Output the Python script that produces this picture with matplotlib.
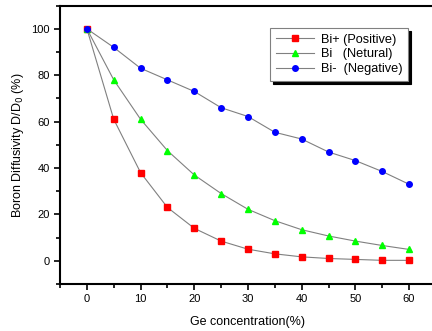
import matplotlib
matplotlib.use("Agg")
import matplotlib.pyplot as plt
from matplotlib.ticker import MultipleLocator

plt.rcParams['font.family'] = ['Liberation Sans', 'DejaVu Sans']

ge_conc = [0, 5, 10, 15, 20, 25, 30, 35, 40, 45, 50, 55, 60]
bi_pos = [100, 61, 38, 23, 14, 8.5, 5, 3, 1.7, 1.0, 0.6, 0.2, 0.2]
bi_neu = [100, 78, 61, 47.5, 37, 29, 22.2, 17.3, 13.4, 10.7, 8.5, 6.6, 4.9]
bi_neg = [100, 92, 83, 78, 73, 66, 62.2, 55.4, 52.5, 46.9, 43.2, 38.5, 33]

fig = plt.figure(figsize=(4.32, 3.31), dpi=100)
ax = fig.add_axes([0.139, 0.142, 0.870, 0.841])

line_kw = dict(color='#808080', lw=0.8, markersize=4)
ax.plot(ge_conc, bi_pos, marker='s', mfc='#ff0000', mec='#ff0000',
        label='Bi+ (Positive)', **line_kw)
ax.plot(ge_conc, bi_neu, marker='^', mfc='#00ff00', mec='#00ff00',
        label='Bi   (Netural)', **line_kw)
ax.plot(ge_conc, bi_neg, marker='o', mfc='#0000ff', mec='#0000ff',
        label='Bi-  (Negative)', **line_kw)

ax.set_xlim(-5, 65)
ax.set_ylim(-10, 110)
ax.xaxis.set_major_locator(MultipleLocator(10))
ax.xaxis.set_minor_locator(MultipleLocator(5))
ax.yaxis.set_major_locator(MultipleLocator(20))
ax.yaxis.set_minor_locator(MultipleLocator(10))
ax.tick_params(which='both', direction='out', labelsize=8, width=1.2)
ax.tick_params(which='major', length=4)
ax.tick_params(which='minor', length=3)
for s in ax.spines.values():
    s.set_linewidth(1.5)

ax.set_xlabel('Ge concentration(%)', fontsize=9, labelpad=8)
ax.set_ylabel('Boron Diffusivity D/D$_0$ (%)', fontsize=9, labelpad=4)

leg = ax.legend(loc='upper right', bbox_to_anchor=(0.926, 0.919), fontsize=9.2,
                fancybox=False, shadow={'color': 'black', 'alpha': 1},
                framealpha=1, edgecolor='#808080', handlelength=3.0,
                borderpad=0.45, labelspacing=0.2, handletextpad=0.5,
                borderaxespad=0)
leg.get_frame().set_linewidth(0.8)

fig.savefig('out.png', dpi=100)
